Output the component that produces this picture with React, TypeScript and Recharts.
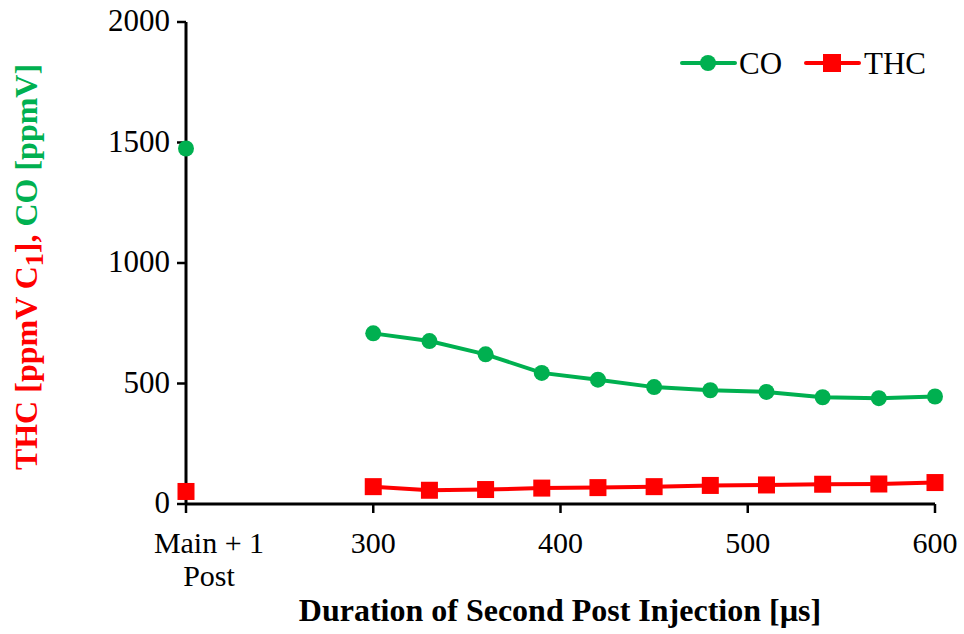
import React from 'react';
import { LineChart, Line, XAxis, YAxis, Label } from 'recharts';

const baselineLabel = ['Main + 1', 'Post'];
const baselineX = 200;
const durations = [300, 330, 360, 390, 420, 450, 480, 510, 540, 570, 600];
const baselineCO = 1475;
const baselineTHC = 52;
const coValues = [708, 676, 621, 544, 516, 485, 472, 465, 443, 439, 446];
const thcValues = [72, 57, 60, 66, 68, 72, 77, 79, 82, 83, 89];
const xTicks = [200, 300, 400, 500, 600];
const yTicks = [0, 500, 1000, 1500, 2000];

const GREEN = '#00B050';
const RED = '#FF0000';
const FONT = '"Liberation Serif", "Times New Roman", serif';

type Row = { x: number; co: number | null; thc: number | null };
const data: Row[] = [
  { x: baselineX, co: baselineCO, thc: baselineTHC },
  { x: (baselineX + durations[0]) / 2, co: null, thc: null },
  ...durations.map((d, i) => ({ x: d, co: coValues[i], thc: thcValues[i] })),
];

const XTick = (props: any) => {
  const { x, y, payload } = props;
  if (payload.value === baselineX) {
    return (
      <g>
        <text x={x + 23} y={y + 38} textAnchor="middle" fontFamily={FONT} fontSize={30} fill="#000">
          {baselineLabel[0]}
        </text>
        <text x={x + 23} y={y + 71} textAnchor="middle" fontFamily={FONT} fontSize={30} fill="#000">
          {baselineLabel[1]}
        </text>
      </g>
    );
  }
  return (
    <text x={x} y={y + 38} textAnchor="middle" fontFamily={FONT} fontSize={30} fill="#000">
      {payload.value}
    </text>
  );
};

const YTick = (props: any) => {
  const { x, y, payload } = props;
  return (
    <text x={x - 5} y={y + 9} textAnchor="end" fontFamily={FONT} fontSize={31} fill="#000">
      {payload.value}
    </text>
  );
};

const YLabel = () => (
  <text
    x={0}
    y={0}
    transform="translate(37,267) rotate(-90)"
    textAnchor="middle"
    fontFamily={FONT}
    fontSize={32}
    fontWeight="bold"
  >
    <tspan fill={RED}>THC [ppmV C</tspan>
    <tspan fill={RED} dy={6} fontSize={26}>1</tspan>
    <tspan fill={RED} dy={-6}>],</tspan>
    <tspan fill={GREEN}> CO [ppmV]</tspan>
  </text>
);

const XLabelAndLegend = () => (
  <g>
    <text x={560} y={621} textAnchor="middle" fontFamily={FONT} fontSize={32} fontWeight="bold" fill="#000">
      Duration of Second Post Injection [µs]
    </text>
    <g>
      <line x1={682} y1={63} x2={735} y2={63} stroke={GREEN} strokeWidth={4} strokeLinecap="round" />
      <circle cx={708} cy={63} r={8} fill={GREEN} />
      <text x={739} y={74} fontFamily={FONT} fontSize={31} fill="#000">CO</text>
      <line x1={806} y1={63} x2={859} y2={63} stroke={RED} strokeWidth={4} strokeLinecap="round" />
      <rect x={823} y={54} width={18} height={18} fill={RED} />
      <text x={864} y={74} fontFamily={FONT} fontSize={31} fill="#000">THC</text>
    </g>
  </g>
);

const CircleDot = (props: any) => {
  const { cx, cy, value } = props;
  if (value == null || cx == null || cy == null) return <g />;
  return <circle cx={cx} cy={cy} r={8} fill={GREEN} />;
};

const SquareDot = (props: any) => {
  const { cx, cy, value } = props;
  if (value == null || cx == null || cy == null) return <g />;
  return <rect x={cx - 8.5} y={cy - 8.5} width={17} height={17} fill={RED} />;
};

export default function App() {
  return (
    <div style={{ position: 'absolute', left: 0, top: 0, background: '#fff' }}>
      <LineChart
        width={964}
        height={634}
        data={data}
        margin={{ top: 22, right: 29, bottom: 70, left: 86 }}
      >
        <XAxis
          dataKey="x"
          type="number"
          domain={[200, 600]}
          ticks={xTicks}
          interval={0}
          tick={<XTick />}
          axisLine={{ stroke: '#000', strokeWidth: 3 }}
          tickLine={{ stroke: '#000', strokeWidth: 2.5 }}
          tickSize={9}
          height={60}
        >
          <Label content={<XLabelAndLegend />} />
        </XAxis>
        <YAxis
          type="number"
          domain={[0, 2000]}
          ticks={yTicks}
          interval={0}
          tick={<YTick />}
          axisLine={{ stroke: '#000', strokeWidth: 3 }}
          tickLine={{ stroke: '#000', strokeWidth: 2.5 }}
          tickSize={9}
          width={100}
        >
          <Label content={<YLabel />} />
        </YAxis>
        <Line
          dataKey="co"
          name="CO"
          stroke={GREEN}
          strokeWidth={4}
          dot={<CircleDot />}
          activeDot={false}
          connectNulls={false}
          isAnimationActive={false}
        />
        <Line
          dataKey="thc"
          name="THC"
          stroke={RED}
          strokeWidth={4}
          dot={<SquareDot />}
          activeDot={false}
          connectNulls={false}
          isAnimationActive={false}
        />
      </LineChart>
    </div>
  );
}
